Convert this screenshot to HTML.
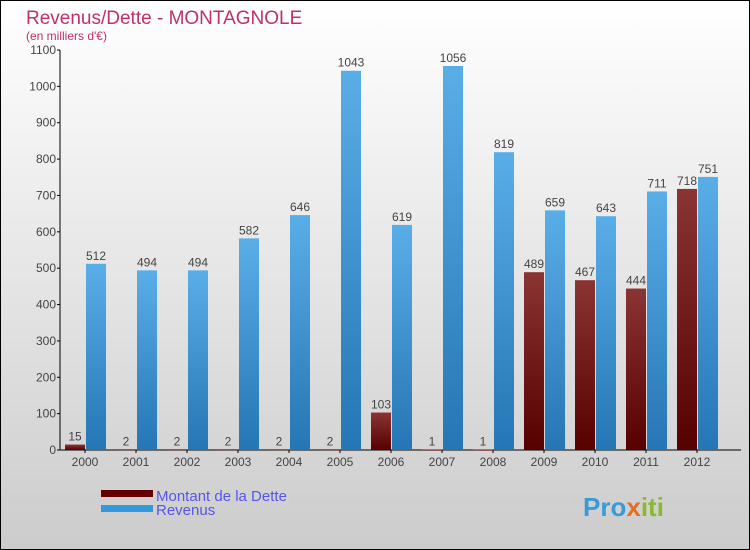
<!DOCTYPE html>
<html><head><meta charset="utf-8"><style>
body{margin:0}
#c{position:relative;width:748px;height:548px;border:1px solid #000;background:linear-gradient(#fff,#ccc);font-family:"Liberation Sans",sans-serif;overflow:hidden}
</style></head><body>
<div id="c">
<svg id="s" width="748" height="548" style="position:absolute;left:0;top:0">
<defs>
<linearGradient id="gb" x1="0" y1="0" x2="0" y2="1"><stop offset="0" stop-color="#5aaee8"/><stop offset="1" stop-color="#2576b4"/></linearGradient>
<linearGradient id="gr" x1="0" y1="0" x2="0" y2="1"><stop offset="0" stop-color="#8a3434"/><stop offset="1" stop-color="#560000"/></linearGradient>
</defs>
<text x="25" y="23" font-size="19" fill="#c0306a">Revenus/Dette - MONTAGNOLE</text>
<text x="25" y="39" font-size="12" fill="#c0306a">(en milliers d'€)</text>
<g id="axes"></g><g id="bars"></g>
<rect x="100" y="489" width="52" height="7" fill="#660000"/>
<rect x="100" y="504" width="52" height="7" fill="#3399dd"/>
<text x="155" y="500" font-size="15" fill="#5555ee">Montant de la Dette</text>
<text x="155" y="514" font-size="15" fill="#5555ee">Revenus</text>
<text x="582" y="515" font-size="26" font-weight="bold" fill="#3a9ad8">Pro<tspan fill="#e07020">x</tspan><tspan fill="#8ab830">iti</tspan></text>
</svg>
</div>
<script>
const years=["2000","2001","2002","2003","2004","2005","2006","2007","2008","2009","2010","2011","2012"];
const dette=[15,2,2,2,2,2,103,1,1,489,467,444,718];
const revenus=[512,494,494,582,646,1043,619,1056,819,659,643,711,751];
const yTicks=[0,100,200,300,400,500,600,700,800,900,1000,1100];
const NS="http://www.w3.org/2000/svg";
const y0=449,ymax=1100,ph=400,x0=84,step=51,bw=20;
const Y=v=>y0-v/ymax*ph;
const X=i=>x0+i*step;
function mk(t,a,p){const e=document.createElementNS(NS,t);for(const k in a)e.setAttribute(k,a[k]);p.appendChild(e);return e;}
const ax=document.getElementById('axes'),bg=document.getElementById('bars');
let l=mk('line',{x1:59,y1:Y(1100),x2:59,y2:y0,stroke:'#000'},ax);


l=mk('line',{x1:59,y1:y0,x2:740,y2:y0,stroke:'#000'},ax);


yTicks.forEach(v=>{
 const t=mk('line',{x1:56,y1:Y(v),x2:59,y2:Y(v),stroke:'#000'},ax);
 
 
 const tx=mk('text',{x:55,y:Y(v)+4,'font-size':12,fill:'#444','text-anchor':'end'},ax);
 tx.textContent=v;
 
 
});
years.forEach((yr,i)=>{
 const cx=X(i);
 const t=mk('line',{x1:cx,y1:y0,x2:cx,y2:y0+3,stroke:'#000'},ax);
 
 
 const tx=mk('text',{x:cx,y:y0+16,'font-size':12,fill:'#444','text-anchor':'middle'},ax);
 tx.textContent=yr;
 
 
 const d=dette[i],r=revenus[i];
 const b1=mk('rect',{x:cx-bw,y:Y(d),width:bw,height:Math.max(y0-Y(d),1),fill:'url(#gr)'},bg);
 
 
 const b2=mk('rect',{x:cx+1,y:Y(r),width:bw,height:y0-Y(r),fill:'url(#gb)'},bg);
 
 
 const l1=mk('text',{x:cx-bw/2,y:Y(d)-4,'font-size':12,fill:'#444','text-anchor':'middle'},bg);
 l1.textContent=d;
 
 
 const l2=mk('text',{x:cx+1+bw/2,y:Y(r)-4,'font-size':12,fill:'#444','text-anchor':'middle'},bg);
 l2.textContent=r;
 
 
});
</script>
</body></html>
